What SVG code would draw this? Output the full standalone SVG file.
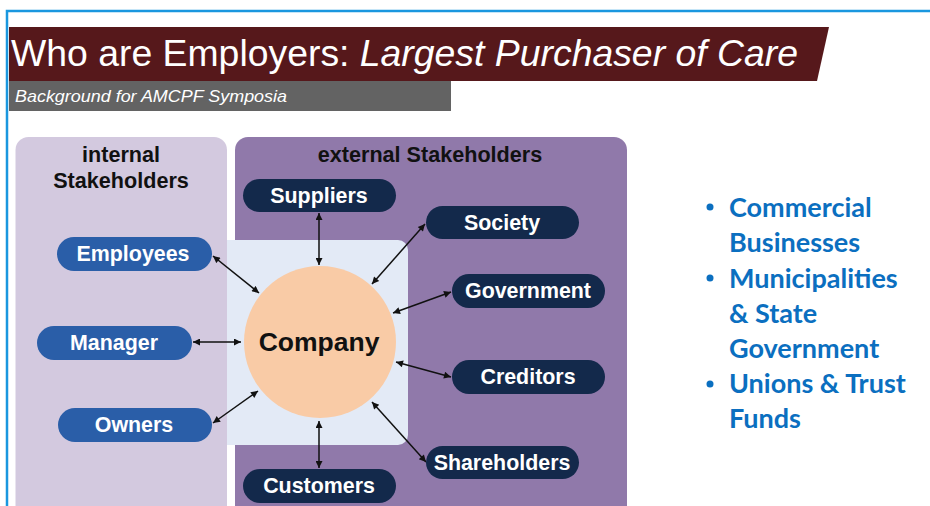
<svg xmlns="http://www.w3.org/2000/svg" width="930" height="506" viewBox="0 0 930 506">
  <defs>
    <marker id="tip" viewBox="0 0 10 10" refX="10" refY="5" markerWidth="9" markerHeight="7" markerUnits="userSpaceOnUse" orient="auto-start-reverse">
      <path d="M0,0 L10,5 L0,10 Z" fill="#111"/>
    </marker>
    <style>
      .bold { font-family: "Liberation Sans", Arial, sans-serif; font-weight: bold; }
      .head { font-size: 21.6px; fill: #111; text-anchor: middle; }
      .pill-int { fill: #2a5ea8; }
      .pill-ext { fill: #13294b; }
      .pill-text { font-size: 21.4px; fill: #fff; text-anchor: middle; }
      .link { stroke: #111; stroke-width: 1.5; fill: none; marker-start: url(#tip); marker-end: url(#tip); }
      .bullet { font-family: Lato, "Open Sans", sans-serif; font-weight: bold; font-size: 27px; fill: #0b6fc0; }
    </style>
  </defs>

  <rect width="930" height="506" fill="#fff"/>

  <!-- slide frame -->
  <path d="M7,506 V11 H930" fill="none" stroke="#1a97df" stroke-width="2.5"/>

  <!-- title banner -->
  <g id="title">
    <polygon points="9,27 829,27 817,81 9,81" fill="#56181b"/>
    <text x="11" y="66" font-family="'Liberation Sans', Arial, sans-serif" font-size="37" fill="#fff" textLength="787" lengthAdjust="spacingAndGlyphs">Who are Employers: <tspan font-style="italic">Largest Purchaser of Care</tspan></text>
  </g>
  <g id="subtitle">
    <rect x="9" y="81" width="442" height="30" fill="#636363"/>
    <text x="15" y="102" font-family="'Liberation Sans', Arial, sans-serif" font-size="16.5" font-style="italic" fill="#fff" textLength="272" lengthAdjust="spacingAndGlyphs">Background for AMCPF Symposia</text>
  </g>

  <!-- stakeholder panels -->
  <g id="internal-panel">
    <rect x="15.5" y="137" width="211.5" height="400" rx="13" fill="#d3c9df"/>
    <text class="bold head" x="121" y="162">internal</text>
    <text class="bold head" x="121" y="188">Stakeholders</text>
  </g>
  <g id="external-panel">
    <rect x="235" y="137" width="392" height="400" rx="13" fill="#9079aa"/>
    <text class="bold head" x="430" y="162">external Stakeholders</text>
  </g>
  <g id="core-area">
    <rect x="227" y="240" width="181" height="205" rx="10" fill="#e3eaf6"/>
    <rect x="227" y="240" width="20" height="205" fill="#e3eaf6"/>
  </g>

  <!-- connectors -->
  <g id="connectors">
    <line class="link" x1="213" y1="256" x2="259" y2="293"/>
    <line class="link" x1="193" y1="342" x2="241" y2="342"/>
    <line class="link" x1="213" y1="423" x2="258" y2="391"/>
    <line class="link" x1="319" y1="213" x2="319" y2="265"/>
    <line class="link" x1="372" y1="284" x2="425" y2="224"/>
    <line class="link" x1="393" y1="313" x2="451" y2="292"/>
    <line class="link" x1="396" y1="362" x2="451" y2="377"/>
    <line class="link" x1="372" y1="402" x2="426" y2="462"/>
    <line class="link" x1="319" y1="421" x2="319" y2="468"/>
  </g>

  <!-- central node -->
  <g id="company">
    <circle cx="320" cy="342" r="76" fill="#f9cba6"/>
    <text class="bold" x="319" y="351" font-size="26.5" fill="#111" text-anchor="middle">Company</text>
  </g>

  <!-- internal stakeholders -->
  <g id="employees">
    <rect class="pill-int" x="57" y="237" width="155" height="34" rx="17"/>
    <text class="bold pill-text" x="133" y="261">Employees</text>
  </g>
  <g id="manager">
    <rect class="pill-int" x="37" y="326" width="155" height="34" rx="17"/>
    <text class="bold pill-text" x="114" y="350">Manager</text>
  </g>
  <g id="owners">
    <rect class="pill-int" x="58" y="408" width="154" height="34" rx="17"/>
    <text class="bold pill-text" x="134" y="432">Owners</text>
  </g>

  <!-- external stakeholders -->
  <g id="suppliers">
    <rect class="pill-ext" x="243" y="179" width="153" height="33" rx="16.5"/>
    <text class="bold pill-text" x="319" y="203">Suppliers</text>
  </g>
  <g id="society">
    <rect class="pill-ext" x="426" y="206" width="153" height="33" rx="16.5"/>
    <text class="bold pill-text" x="502" y="230">Society</text>
  </g>
  <g id="government">
    <rect class="pill-ext" x="452" y="274" width="153" height="34" rx="17"/>
    <text class="bold pill-text" x="528" y="298">Government</text>
  </g>
  <g id="creditors">
    <rect class="pill-ext" x="452" y="360" width="153" height="34" rx="17"/>
    <text class="bold pill-text" x="528" y="384">Creditors</text>
  </g>
  <g id="shareholders">
    <rect class="pill-ext" x="426" y="446" width="153" height="33" rx="16.5"/>
    <text class="bold pill-text" x="502" y="470">Shareholders</text>
  </g>
  <g id="customers">
    <rect class="pill-ext" x="243" y="469" width="153" height="34" rx="17"/>
    <text class="bold pill-text" x="319" y="493">Customers</text>
  </g>

  <!-- employer types -->
  <g id="employer-list">
    <circle cx="710" cy="207" r="3.5" fill="#0b6fc0"/>
    <circle cx="710" cy="278" r="3.5" fill="#0b6fc0"/>
    <circle cx="710" cy="384" r="3.5" fill="#0b6fc0"/>
    <text class="bullet" x="729" y="217">Commercial</text>
    <text class="bullet" x="729" y="252">Businesses</text>
    <text class="bullet" x="729" y="288">Municipalities</text>
    <text class="bullet" x="729" y="323">&amp; State</text>
    <text class="bullet" x="729" y="358">Government</text>
    <text class="bullet" x="729" y="393">Unions &amp; Trust</text>
    <text class="bullet" x="729" y="428">Funds</text>
  </g>
</svg>
